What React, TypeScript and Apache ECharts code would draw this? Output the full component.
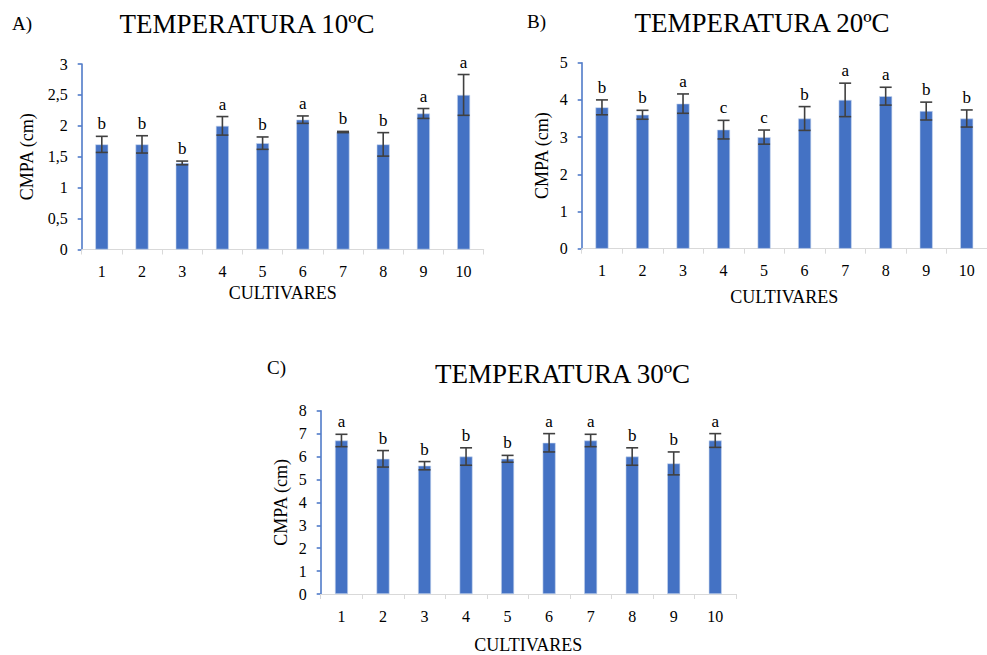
import React, { useEffect, useRef } from "react";
import * as echarts from "echarts";

const categories = ["1", "2", "3", "4", "5", "6", "7", "8", "9", "10"];

const meanA = [1.7, 1.7, 1.4, 2.0, 1.72, 2.1, 1.9, 1.7, 2.2, 2.5];
const errA = [0.13, 0.14, 0.03, 0.15, 0.1, 0.06, 0.01, 0.19, 0.08, 0.33];
const lettersA = ["b", "b", "b", "a", "b", "a", "b", "b", "a", "a"];

const meanB = [3.8, 3.6, 3.9, 3.2, 3.0, 3.5, 4.0, 4.1, 3.7, 3.5];
const errB = [0.2, 0.12, 0.26, 0.25, 0.19, 0.32, 0.45, 0.24, 0.24, 0.23];
const lettersB = ["b", "b", "a", "c", "c", "b", "a", "a", "b", "b"];

const meanC = [6.7, 5.9, 5.6, 6.0, 5.9, 6.6, 6.7, 6.0, 5.7, 6.7];
const errC = [0.27, 0.36, 0.18, 0.38, 0.15, 0.4, 0.27, 0.38, 0.5, 0.3];
const lettersC = ["a", "b", "b", "b", "b", "a", "a", "b", "b", "a"];

const titles = ["TEMPERATURA 10ºC", "TEMPERATURA 20ºC", "TEMPERATURA 30ºC"];
const panelTags = ["A)", "B)", "C)"];
const yAxisName = "CMPA (cm)";
const xAxisName = "CULTIVARES";

const FONT = "'Liberation Serif', 'Times New Roman', serif";
const BLUE = "#4472C4";

export default function App() {
  const ref = useRef<HTMLDivElement>(null);

  useEffect(() => {
    if (!ref.current) return;
    const chart = echarts.init(ref.current, undefined, { renderer: "svg" });

    const panels = [
      { mean: meanA, err: errA, letters: lettersA, max: 3, interval: 0.5, grid: { left: 81.7, top: 64, width: 402, height: 185.5 }, yGap: 46, xGap: 34 },
      { mean: meanB, err: errB, letters: lettersB, max: 5, interval: 1, grid: { left: 581.7, top: 62.7, width: 415, height: 186 }, yGap: 31, xGap: 39 },
      { mean: meanC, err: errC, letters: lettersC, max: 8, interval: 1, grid: { left: 320.7, top: 410.7, width: 415.3, height: 185.3 }, yGap: 31, xGap: 42 },
    ];

    const grids: any[] = [];
    const xAxes: any[] = [];
    const yAxes: any[] = [];
    const series: any[] = [];

    panels.forEach((p, i) => {
      grids.push({ ...p.grid, containLabel: false });
      xAxes.push({
        type: "category",
        gridIndex: i,
        data: categories,
        boundaryGap: true,
        name: xAxisName,
        nameLocation: "middle",
        nameGap: p.xGap,
        nameTextStyle: { fontFamily: FONT, fontSize: 18, color: "#000" },
        axisLine: { show: true, lineStyle: { color: "#d9d9d9", width: 1 } },
        axisTick: { show: true, length: 5, lineStyle: { color: "#d9d9d9" } },
        axisLabel: { fontFamily: FONT, fontSize: 16, color: "#000", margin: 14 },
        splitLine: { show: false },
      });
      yAxes.push({
        type: "value",
        gridIndex: i,
        min: 0,
        max: p.max,
        interval: p.interval,
        name: yAxisName,
        nameLocation: "middle",
        nameGap: p.yGap,
        nameTextStyle: { fontFamily: FONT, fontSize: 18, color: "#000" },
        axisLine: { show: true, lineStyle: { color: BLUE, width: 1.5 } },
        axisTick: { show: true, length: 4, lineStyle: { color: BLUE, width: 1.5 } },
        axisLabel: {
          fontFamily: FONT,
          fontSize: 16,
          color: "#000",
          margin: 14,
          formatter: (v: number) => String(v).replace(".", ","),
        },
        splitLine: { show: false },
      });
      series.push({
        type: "bar",
        xAxisIndex: i,
        yAxisIndex: i,
        data: p.mean,
        barWidth: 13,
        itemStyle: { color: BLUE, borderColor: "#c9d6ee", borderWidth: 0.6 },
        z: 2,
      });
      const errData = p.mean.map((m, k) => [k, m - p.err[k], m + p.err[k]]);
      const letters = p.letters;
      series.push({
        type: "custom",
        xAxisIndex: i,
        yAxisIndex: i,
        data: errData,
        z: 5,
        renderItem: (params: any, api: any) => {
          const x = api.value(0);
          const lo = api.value(1);
          const hi = api.value(2);
          const pHi = api.coord([x, hi]);
          const pLo = api.coord([x, lo]);
          const hw = 6;
          const st = { stroke: "#404040", lineWidth: 1.6 };
          return {
            type: "group",
            children: [
              { type: "line", shape: { x1: pHi[0], y1: pHi[1], x2: pLo[0], y2: pLo[1] }, style: st },
              { type: "line", shape: { x1: pHi[0] - hw, y1: pHi[1], x2: pHi[0] + hw, y2: pHi[1] }, style: st },
              { type: "line", shape: { x1: pLo[0] - hw, y1: pLo[1], x2: pLo[0] + hw, y2: pLo[1] }, style: st },
              {
                type: "text",
                x: pHi[0],
                y: pHi[1] - 4,
                style: {
                  text: letters[params.dataIndex],
                  fontFamily: FONT,
                  fontSize: 17,
                  fill: "#000",
                  align: "center",
                  verticalAlign: "bottom",
                },
              },
            ],
          };
        },
      });
    });

    const textEl = (text: string, x: number, y: number, size: number, align: string) => ({
      type: "text",
      x,
      y,
      style: { text, fontFamily: FONT, fontSize: size, fill: "#000", align, verticalAlign: "middle" },
    });

    chart.setOption({
      animation: false,
      backgroundColor: "#fff",
      grid: grids,
      xAxis: xAxes,
      yAxis: yAxes,
      series,
      graphic: [
        textEl(titles[0], 247, 24, 27, "center"),
        textEl(titles[1], 762, 22.5, 27, "center"),
        textEl(titles[2], 562.5, 374, 27, "center"),
        textEl(panelTags[0], 12, 23, 19, "left"),
        textEl(panelTags[1], 527, 21, 19, "left"),
        textEl(panelTags[2], 267, 367, 19, "left"),
      ],
    });

    return () => chart.dispose();
  }, []);

  return (
    <div
      ref={ref}
      style={{ position: "fixed", left: 0, top: 0, width: 987, height: 655, background: "#fff" }}
    />
  );
}
